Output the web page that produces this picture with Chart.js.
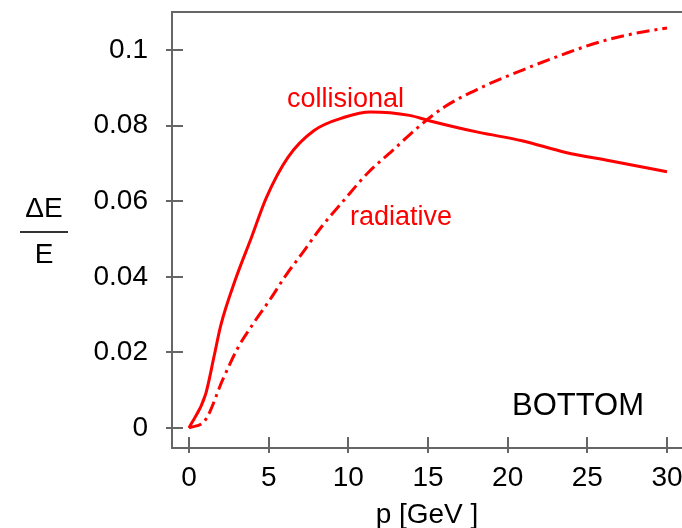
<!DOCTYPE html>
<html>
<head>
<meta charset="utf-8">
<script src="https://cdn.jsdelivr.net/npm/chart.js@4/dist/chart.umd.min.js"></script>
<style>
  html, body { margin: 0; padding: 0; background: #fff; overflow: hidden; }
  #wrap { width: 682px; height: 528px; overflow: hidden; position: relative; }
  canvas { display: block; }
</style>
</head>
<body>
<div id="wrap"><canvas id="c" width="700" height="528"></canvas></div>
<script>
// Relative energy loss of a bottom quark vs momentum
const collP = [0, 1.04, 1.58, 1.99, 2.94, 3.9, 4.85, 6.21, 7.85, 9.75, 11.4, 13.84, 15.07, 18.2, 20.9, 23.65, 26.4, 30];
const collDE = [0, 0.0089, 0.0191, 0.0271, 0.0396, 0.0502, 0.0609, 0.0716, 0.0787, 0.0822, 0.0836, 0.0827, 0.0813, 0.0782, 0.0760, 0.0729, 0.0707, 0.0678];

const radP = [0, 1.04, 2.13, 3.08, 4.03, 5.12, 6.08, 7.03, 8.26, 9.75, 11.25, 12.75, 14.39, 16.02, 18.2, 20.93, 23.65, 25.83, 28.0, 30];
const radDE = [0, 0.0022, 0.0129, 0.0213, 0.0276, 0.0342, 0.0404, 0.0458, 0.0529, 0.0604, 0.0676, 0.0733, 0.0796, 0.0849, 0.0898, 0.0947, 0.0991, 0.1022, 0.1044, 0.1058];

const xTicks = [0, 5, 10, 15, 20, 25, 30];
const yTicks = [0, 0.02, 0.04, 0.06, 0.08, 0.1];

const FONT = "'Liberation Sans', Arial, Helvetica, sans-serif";
const RED = '#ff0000';
const FRAME = '#666666';
const INK = '#000000';

const toPts = (xs, ys) => xs.map((x, i) => ({ x, y: ys[i] }));

// Drop the label overhang padding so the plot box fills the layout exactly
const noOverhang = s => {
  s.paddingTop = 0; s.paddingBottom = 0; s.paddingLeft = 0; s.paddingRight = 0;
};

// Frame (open past the right edge), crossing tick marks and text annotations
const decorations = {
  id: 'decorations',
  beforeDatasetsDraw(chart) {
    const { ctx, chartArea: a, scales: { x, y } } = chart;
    ctx.save();
    ctx.strokeStyle = FRAME;
    ctx.lineWidth = 2;
    ctx.beginPath();
    ctx.moveTo(a.right, a.top);
    ctx.lineTo(a.left, a.top);
    ctx.lineTo(a.left, a.bottom);
    ctx.lineTo(a.right, a.bottom);
    ctx.stroke();
    ctx.beginPath();
    xTicks.forEach(v => {
      const px = Math.round(x.getPixelForValue(v));
      ctx.moveTo(px, a.bottom - 11);
      ctx.lineTo(px, a.bottom + 5);
    });
    yTicks.forEach(v => {
      const py = Math.round(y.getPixelForValue(v));
      ctx.moveTo(a.left - 6, py);
      ctx.lineTo(a.left + 11, py);
    });
    ctx.stroke();
    ctx.restore();
  },
  afterDraw(chart) {
    const { ctx } = chart;
    ctx.save();
    ctx.textBaseline = 'alphabetic';

    ctx.fillStyle = RED;
    ctx.font = '27px ' + FONT;
    ctx.textAlign = 'left';
    ctx.fillText('collisional', 287, 107);
    ctx.fillText('radiative', 350, 225);

    ctx.fillStyle = INK;
    ctx.font = '31px ' + FONT;
    ctx.fillText('BOTTOM', 512, 415);

    ctx.font = '28px ' + FONT;
    ctx.textAlign = 'center';
    ctx.fillText('p [GeV ]', 427, 523);

    // ΔE / E as a stacked fraction
    ctx.fillText('\u0394E', 44, 217);
    ctx.fillText('E', 44, 263);
    ctx.strokeStyle = '#333';
    ctx.lineWidth = 2;
    ctx.beginPath();
    ctx.moveTo(20, 232);
    ctx.lineTo(68, 232);
    ctx.stroke();
    ctx.restore();
  }
};

new Chart(document.getElementById('c'), {
  type: 'line',
  data: {
    datasets: [
      {
        label: 'collisional',
        data: toPts(collP, collDE),
        borderColor: RED,
        borderWidth: 3,
        pointRadius: 0,
        cubicInterpolationMode: 'monotone',
        fill: false
      },
      {
        label: 'radiative',
        data: toPts(radP, radDE),
        borderColor: RED,
        borderWidth: 3,
        borderDash: [13, 5, 3, 5],
        pointRadius: 0,
        cubicInterpolationMode: 'monotone',
        fill: false
      }
    ]
  },
  plugins: [decorations],
  options: {
    responsive: false,
    animation: false,
    devicePixelRatio: 1,
    layout: { padding: { left: 0, top: 12, right: 5, bottom: 0 } },
    plugins: { legend: { display: false }, tooltip: { enabled: false } },
    scales: {
      x: {
        type: 'linear',
        min: -1.067,
        max: 31.757,
        grid: { display: false, drawTicks: false },
        border: { display: false },
        afterBuildTicks(s) { s.ticks = xTicks.map(v => ({ value: v })); },
        afterFit(s) { s.height = 80; noOverhang(s); },
        ticks: {
          padding: 13,
          color: INK,
          font: { family: FONT, size: 28 },
          maxRotation: 0,
          autoSkip: false
        }
      },
      y: {
        type: 'linear',
        min: -0.00529,
        max: 0.11005,
        grid: { display: false, drawTicks: false },
        border: { display: false },
        afterBuildTicks(s) { s.ticks = yTicks.map(v => ({ value: v })); },
        afterFit(s) { s.width = 172; noOverhang(s); },
        ticks: {
          padding: 24,
          color: INK,
          font: { family: FONT, size: 28 },
          autoSkip: false,
          callback: v => String(+v.toFixed(2))
        }
      }
    }
  }
});
</script>
</body>
</html>
